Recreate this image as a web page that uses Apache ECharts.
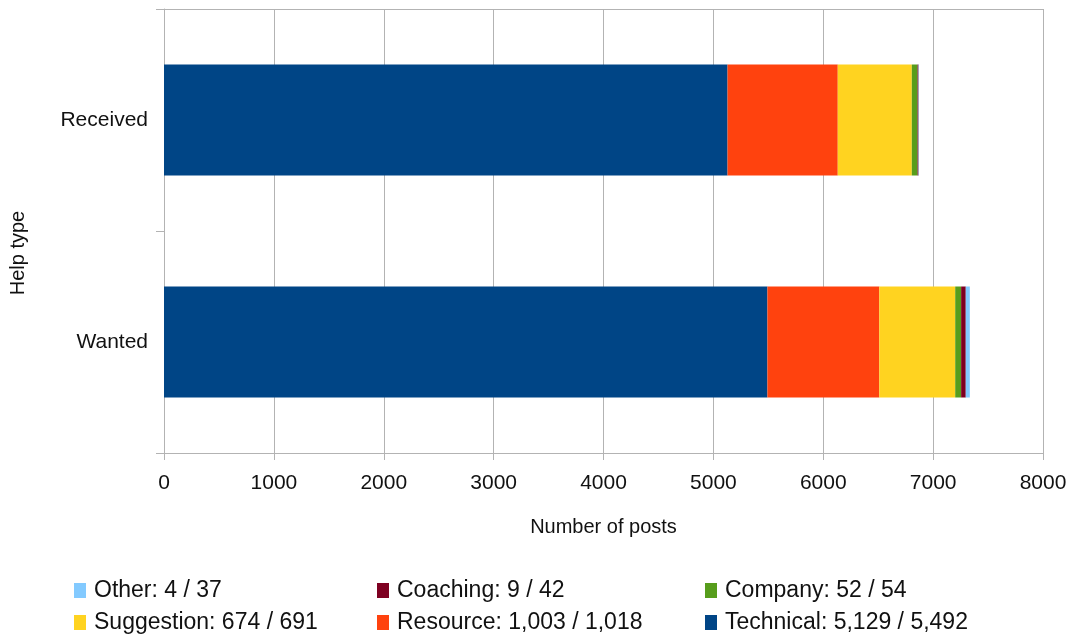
<!DOCTYPE html>
<html><head><meta charset="utf-8">
<script src="https://cdn.jsdelivr.net/npm/echarts@6/dist/echarts.min.js"></script>
<style>html,body{margin:0;padding:0;background:#fff}#c{width:1071px;height:636px}</style>
</head><body><div id="c"></div>
<script>
const categories = ['Wanted', 'Received'];
const seriesNames = ['Technical', 'Resource', 'Suggestion', 'Company', 'Coaching', 'Other'];
const technical = [5492, 5129];
const resource = [1018, 1003];
const suggestion = [691, 674];
const company = [54, 52];
const coaching = [42, 9];
const other = [37, 4];
const xTicks = [0, 1000, 2000, 3000, 4000, 5000, 6000, 7000, 8000];
const colors = ['#004586', '#ff420e', '#ffd320', '#579d1c', '#7e0021', '#83caff'];

const values = [technical, resource, suggestion, company, coaching, other];
const fmt = v => v.toLocaleString('en-US');
const labelOf = {};
seriesNames.forEach((n, i) => { labelOf[n] = n + ': ' + fmt(values[i][1]) + ' / ' + fmt(values[i][0]); });

const font = 'Liberation Sans, Arial, sans-serif';
const legendPos = [
  ['Other', 74, 579], ['Coaching', 377, 579], ['Company', 705, 579],
  ['Suggestion', 74, 611], ['Resource', 377, 611], ['Technical', 705, 611]
];
const legends = legendPos.map(([n, l, t]) => ({
  data: [n], left: l, top: t, padding: 0, itemWidth: 12, itemHeight: 15, itemGap: 0,
  icon: 'rect', formatter: name => labelOf[name], selectedMode: false,
  textStyle: { fontFamily: font, fontSize: 23, color: '#111', padding: [0, 0, 0, 3] }
}));

const chart = echarts.init(document.getElementById('c'));
chart.setOption({
  animation: false,
  color: colors,
  grid: { left: 164, right: 28, top: 9, bottom: 183, containLabel: false },
  legend: legends,
  xAxis: [{
    type: 'value', min: 0, max: 8000, interval: 1000,
    name: 'Number of posts', nameLocation: 'middle', nameGap: 64,
    nameTextStyle: { fontFamily: font, fontSize: 20, color: '#111' },
    axisLine: { show: true, lineStyle: { color: '#b3b3b3', width: 1 } },
    axisTick: { show: true, length: 7, lineStyle: { color: '#b3b3b3' } },
    axisLabel: { fontFamily: font, fontSize: 21, color: '#111', margin: 20,
      formatter: v => xTicks.includes(v) ? String(v) : '' },
    splitLine: { show: true, lineStyle: { color: '#b3b3b3', width: 1 } }
  }, {
    type: 'value', position: 'top', min: 0, max: 8000,
    axisLine: { show: true, lineStyle: { color: '#b3b3b3' } },
    axisTick: { show: false }, axisLabel: { show: false }, splitLine: { show: false }
  }],
  yAxis: {
    type: 'category', data: categories,
    name: 'Help type', nameLocation: 'middle', nameGap: 136, nameRotate: 90,
    nameTextStyle: { fontFamily: font, fontSize: 20, color: '#111', padding: [0, 44, 0, 0] },
    axisLine: { show: true, lineStyle: { color: '#b3b3b3' } },
    axisTick: { show: true, length: 8, alignWithLabel: false, lineStyle: { color: '#b3b3b3' } },
    axisLabel: { fontFamily: font, fontSize: 21, color: '#111', margin: 16 },
    splitLine: { show: false }
  },
  series: seriesNames.map((n, i) => ({
    name: n, type: 'bar', stack: 'all', data: values[i], barWidth: '50%',
    xAxisIndex: 0
  }))
});
</script></body></html>
